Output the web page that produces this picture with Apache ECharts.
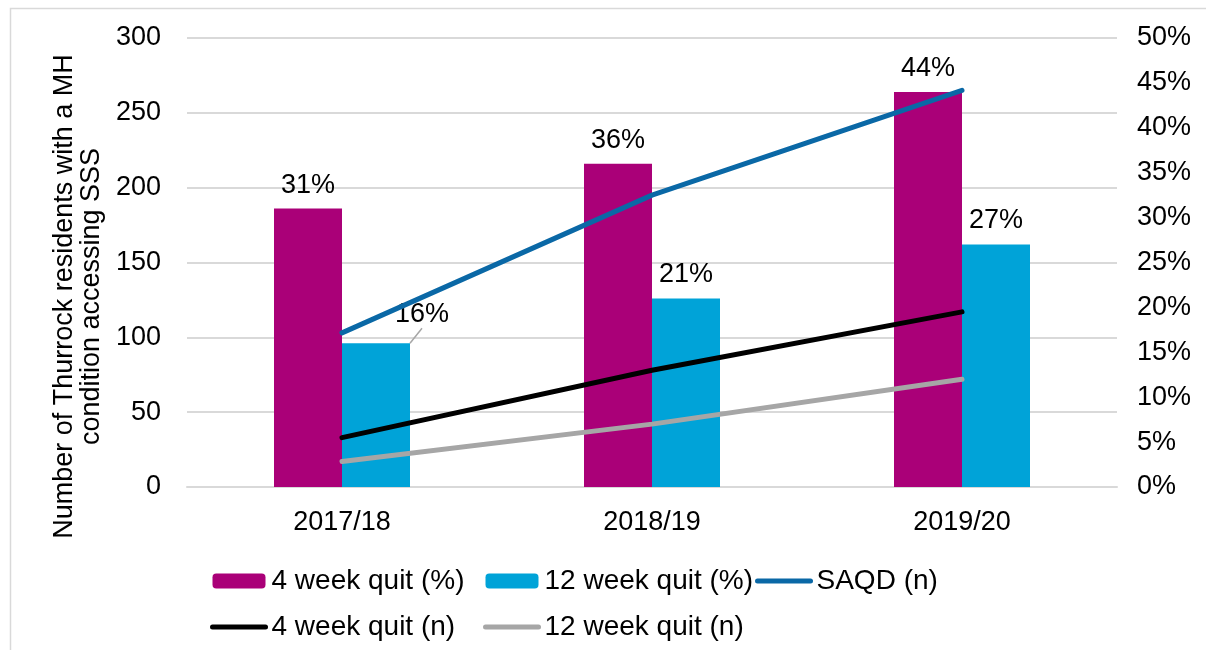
<!DOCTYPE html>
<html>
<head>
<meta charset="utf-8">
<title>Thurrock SSS quit rates</title>
<script src="https://cdn.jsdelivr.net/npm/echarts@6/dist/echarts.min.js"></script>
<style>
  html, body { margin: 0; padding: 0; background: #fff; }
  #chart { width: 1206px; height: 650px; }
</style>
</head>
<body>
<div id="chart"></div>
<script>
// Financial years shown on the category axis
const years = ['2017/18', '2018/19', '2019/20'];

// Quit rates (percent, right axis)
const quit4wkPct = [31, 36, 44];
const quit12wkPct = [16, 21, 27];

// Counts of residents (left axis)
const saqdN = [103, 195, 265];
const quit4wkN = [33, 78, 117];
const quit12wkN = [17, 42, 72];

const FONT = '"Liberation Sans", Arial, sans-serif';
const FS = 27;
const LEGEND_FS = 28;

const COLORS = {
  pct4: '#AA0078',
  pct12: '#00A3D8',
  saqd: '#0A68A6',
  n4: '#000000',
  n12: '#A6A6A6'
};

const chart = echarts.init(document.getElementById('chart'), null, { renderer: 'canvas' });

const barLabel = {
  show: true,
  position: 'top',
  distance: 10,
  color: '#000',
  fontFamily: FONT,
  fontSize: FS,
  formatter: p => p.value + '%'
};

// Legend entry for a line series: plain thick line, no marker
const lineEntry = (name, color) => ({
  name,
  itemStyle: { color: 'rgba(0,0,0,0)', opacity: 0, borderWidth: 0 },
  lineStyle: { color, width: 5, cap: 'round' }
});

// Legend laid out in three columns, two rows
const legendColumn = (left, data) => ({
  orient: 'vertical',
  left,
  top: 562,
  itemWidth: 53,
  itemHeight: 15,
  itemGap: 18,
  textStyle: { fontFamily: FONT, fontSize: LEGEND_FS, color: '#000', padding: [0, 0, 0, 1] },
  data
});

// The first 12-week label sits beside the bar with a guide line
const pct12Data = quit12wkPct.map((v, i) => i === 0
  ? { value: v, labelLine: { show: true, lineStyle: { color: '#a6a6a6', width: 1.5 } } }
  : v);

chart.setOption({
  animation: false,
  backgroundColor: '#fff',
  textStyle: { fontFamily: FONT, color: '#000' },
  graphic: [{
    type: 'rect',
    shape: { x: 10.5, y: 8.5, width: 1300, height: 700 },
    style: { fill: 'none', stroke: '#d9d9d9', lineWidth: 1.5 },
    silent: true,
    z: -10
  }],
  grid: { left: 187, right: 89, top: 38, bottom: 163, containLabel: false, outerBoundsMode: 'none' },
  legend: [
    legendColumn(205, ['4 week quit (%)', lineEntry('4 week quit (n)', COLORS.n4)]),
    legendColumn(478, ['12 week quit (%)', lineEntry('12 week quit (n)', COLORS.n12)]),
    legendColumn(750, [lineEntry('SAQD (n)', COLORS.saqd)])
  ],
  xAxis: {
    type: 'category',
    data: years,
    axisLine: { lineStyle: { color: '#d9d9d9', width: 2 } },
    axisTick: { show: false },
    axisLabel: { color: '#000', fontFamily: FONT, fontSize: FS, margin: 22 }
  },
  yAxis: [{
    type: 'value',
    min: 0,
    max: 300,
    interval: 50,
    name: 'Number of Thurrock residents with a MH\ncondition accessing SSS',
    nameLocation: 'middle',
    nameGap: 81,
    nameTextStyle: { color: '#000', fontFamily: FONT, fontSize: FS, lineHeight: 27, padding: [0, 68, 0, 0] },
    axisLine: { show: false },
    axisTick: { show: false },
    axisLabel: { color: '#000', fontFamily: FONT, fontSize: FS, margin: 26 },
    splitLine: { lineStyle: { color: '#d9d9d9', width: 2 } }
  }, {
    type: 'value',
    min: 0,
    max: 50,
    interval: 5,
    position: 'right',
    axisLine: { show: false },
    axisTick: { show: false },
    axisLabel: { color: '#000', fontFamily: FONT, fontSize: FS, margin: 20, formatter: '{value}%' },
    splitLine: { show: false }
  }],
  series: [{
    name: '4 week quit (%)',
    type: 'bar',
    yAxisIndex: 1,
    data: quit4wkPct,
    barWidth: 68,
    barGap: '0%',
    itemStyle: { color: COLORS.pct4 },
    label: barLabel
  }, {
    name: '12 week quit (%)',
    type: 'bar',
    yAxisIndex: 1,
    data: pct12Data,
    barWidth: 68,
    itemStyle: { color: COLORS.pct12 },
    label: barLabel,
    labelLayout: p => (p.dataIndex === 0 ? { dx: 46, dy: -5 } : {})
  }, {
    name: 'SAQD (n)',
    type: 'line',
    data: saqdN,
    symbol: 'none',
    lineStyle: { color: COLORS.saqd, width: 5, cap: 'round' },
    itemStyle: { color: COLORS.saqd },
    z: 5
  }, {
    name: '4 week quit (n)',
    type: 'line',
    data: quit4wkN,
    symbol: 'none',
    lineStyle: { color: COLORS.n4, width: 5, cap: 'round' },
    itemStyle: { color: COLORS.n4 },
    z: 5
  }, {
    name: '12 week quit (n)',
    type: 'line',
    data: quit12wkN,
    symbol: 'none',
    lineStyle: { color: COLORS.n12, width: 5, cap: 'round' },
    itemStyle: { color: COLORS.n12 },
    z: 5
  }]
});
</script>
</body>
</html>
